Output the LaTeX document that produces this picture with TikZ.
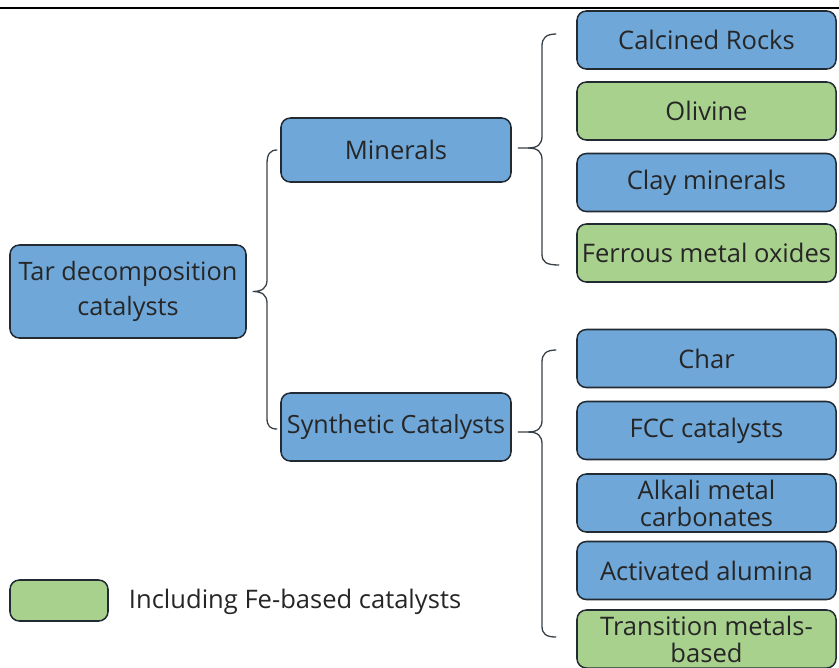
\documentclass[tikz,border=0pt]{standalone}
\usepackage{fontspec}
\setmainfont{Open Sans}
\usetikzlibrary{calc}
\definecolor{boxblue}{HTML}{6FA7D9}
\definecolor{boxgreen}{HTML}{A9D18E}
\definecolor{edge}{HTML}{222B33}
\definecolor{txt}{HTML}{262626}
\tikzset{
  box/.style={draw=edge, line width=1.3pt, rounded corners=8pt, align=center, text=txt,
    inner sep=0pt, font=\fontsize{21.8}{23}\selectfont},
  bluebox/.style={box, fill=boxblue},
  greenbox/.style={box, fill=boxgreen},
  leaf/.style={minimum width=7.77cm, minimum height=1.74cm},
  brace/.style={draw=edge!90, line width=1.1pt}
}
\begin{document}
\begin{tikzpicture}[x=0.03cm,y=-0.03cm]
\useasboundingbox (0,0) rectangle (839,667);
\clip (0,0) rectangle (839,667);
\draw[line width=1.5pt, black] (0,8) -- (839,8);

\node[bluebox, minimum width=7.08cm, minimum height=2.79cm, font=\fontsize{21.6}{30}\selectfont] (tar) at (128,291.5) {Tar decomposition\\catalysts};
\node[bluebox, minimum width=6.9cm, minimum height=1.92cm] (min) at (396,150) {Minerals};
\node[bluebox, minimum width=6.9cm, minimum height=2.04cm, font=\fontsize{21.4}{23}\selectfont] (syn) at (396,427) {Synthetic Catalysts};

\node[bluebox, leaf] (calc) at (706.5,40) {Calcined Rocks};
\node[greenbox, leaf] (oliv) at (706.5,111) {Olivine};
\node[bluebox, leaf] (clay) at (706.5,182.5) {Clay minerals};
\node[greenbox, leaf] (ferr) at (706.5,253) {Ferrous metal oxides};

\node[bluebox, leaf] (char) at (706.5,358.5) {Char};
\node[bluebox, leaf] (fcc) at (706.5,430.5) {FCC catalysts};
\node[bluebox, leaf] (alk) at (706.5,503) {Alkali metal\\carbonates};
\node[bluebox, leaf] (act) at (706.5,570.5) {Activated alumina};
\node[greenbox, leaf] (trans) at (706.5,639) {Transition metals-\\based};

\node[greenbox, minimum width=2.94cm, minimum height=1.23cm] (leg) at (59,600.5) {};
\node[anchor=west, text=txt, font=\fontsize{21.8}{26}\selectfont, inner sep=0pt] (legtxt) at ($(leg.east)+(20,1)$) {Including Fe-based catalysts};

% brace: tar -> minerals / synthetic
\coordinate (t1) at ($(tar.east)+(6,0)$);
\draw[brace] ($(min.west)+(-3,0)$) .. controls (270,150) and (267,154) .. (267,164)
  -- (267,280) .. controls (267,288) and (262,291.5) .. (t1)
  .. controls (262,291.5) and (267,295) .. (267,303)
  -- (267,418) .. controls (267,426) and (270,429) .. ($(syn.west)+(-3,2)$);

% brace: minerals -> leaves
\draw[brace] ($(min.east)+(6,-2)$) -- (528,148) .. controls (538,148) and (542,144) .. (542,136)
  -- (542,46) .. controls (542,38) and (546,34) .. ($(calc.west)+(-20,-6)$);
\draw[brace] (528,148) .. controls (538,148) and (542,152) .. (542,160)
  -- (542,254) .. controls (542,262) and (546,265) .. ($(ferr.west)+(-17,12)$);

% brace: synthetic -> leaves
\draw[brace] ($(syn.east)+(6,5)$) -- (528,432) .. controls (538,432) and (542,428) .. (542,420)
  -- (542,362) .. controls (542,354) and (546,350) .. ($(char.west)+(-20,-8.5)$);
\draw[brace] (528,432) .. controls (538,432) and (542,436) .. (542,444)
  -- (542,626) .. controls (542,634) and (546,637) .. ($(trans.west)+(-20,-2)$);
\end{tikzpicture}
\end{document}
